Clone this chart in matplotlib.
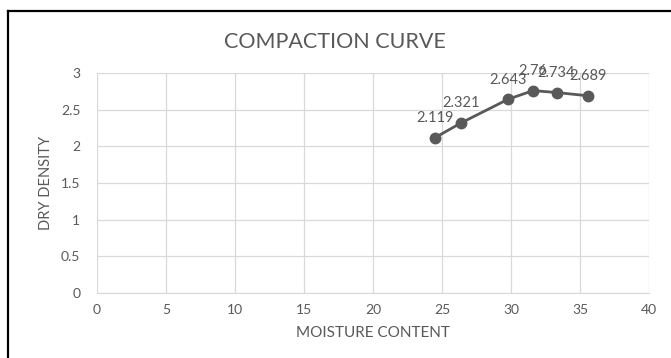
import matplotlib
matplotlib.use("Agg")
import matplotlib.pyplot as plt

moisture = [24.5, 26.4, 29.8, 31.6, 33.3, 35.6]
dry_density = [2.119, 2.321, 2.643, 2.76, 2.734, 2.689]
x_ticks = [0, 5, 10, 15, 20, 25, 30, 35, 40]
y_ticks = [0, 0.5, 1, 1.5, 2, 2.5, 3]

plt.rcParams['font.family'] = ['Lato', 'DejaVu Sans']
text_color = '#595959'
grid_color = '#d9d9d9'

W, H = 671, 358
fig = plt.figure(figsize=(W / 100, H / 100), dpi=100)
fig.patch.set_facecolor('white')

# chart frame (only top and left edges visible)
fig.add_artist(plt.Line2D([8 / W, 8 / W], [0, 1 - 11 / H], transform=fig.transFigure,
                          color='black', lw=1.6))
fig.add_artist(plt.Line2D([8 / W, 1], [1 - 11 / H, 1 - 11 / H], transform=fig.transFigure,
                          color='black', lw=1.6))

left, right, top, bottom = 97, 649, 73, 293
ax = fig.add_axes([left / W, 1 - bottom / H, (right - left) / W, (bottom - top) / H])
ax.set_xlim(0, 40)
ax.set_ylim(0, 3)
ax.set_xticks(x_ticks)
ax.set_yticks(y_ticks)
ax.set_xticklabels([str(v) for v in x_ticks])
ax.set_yticklabels([f'{v:g}' for v in y_ticks])
ax.grid(True, color=grid_color, lw=0.9)
ax.set_axisbelow(True)
for s in ['top', 'right', 'left']:
    ax.spines[s].set_visible(False)
ax.spines['bottom'].set_color(grid_color)
ax.tick_params(length=0, colors=text_color, labelsize=10, pad=8)
ax.tick_params(axis='y', pad=12)

ax.plot(moisture, dry_density, color=text_color, lw=2.0, marker='o', markersize=7.5,
        zorder=3)
for x, y in zip(moisture, dry_density):
    ax.annotate(f'{y:g}', (x, y), xytext=(0, 9), textcoords='offset points',
                ha='center', va='bottom', color=text_color, fontsize=10.5)

ax.set_xlabel('MOISTURE CONTENT', color=text_color, fontsize=11, labelpad=7)
ax.set_ylabel('DRY DENSITY', color=text_color, fontsize=10.5, labelpad=6)
fig.text(335 / W, 1 - 42 / H, 'COMPACTION CURVE', ha='center', va='center',
         color=text_color, fontsize=15.5)

fig.savefig('out.png', dpi=100)
